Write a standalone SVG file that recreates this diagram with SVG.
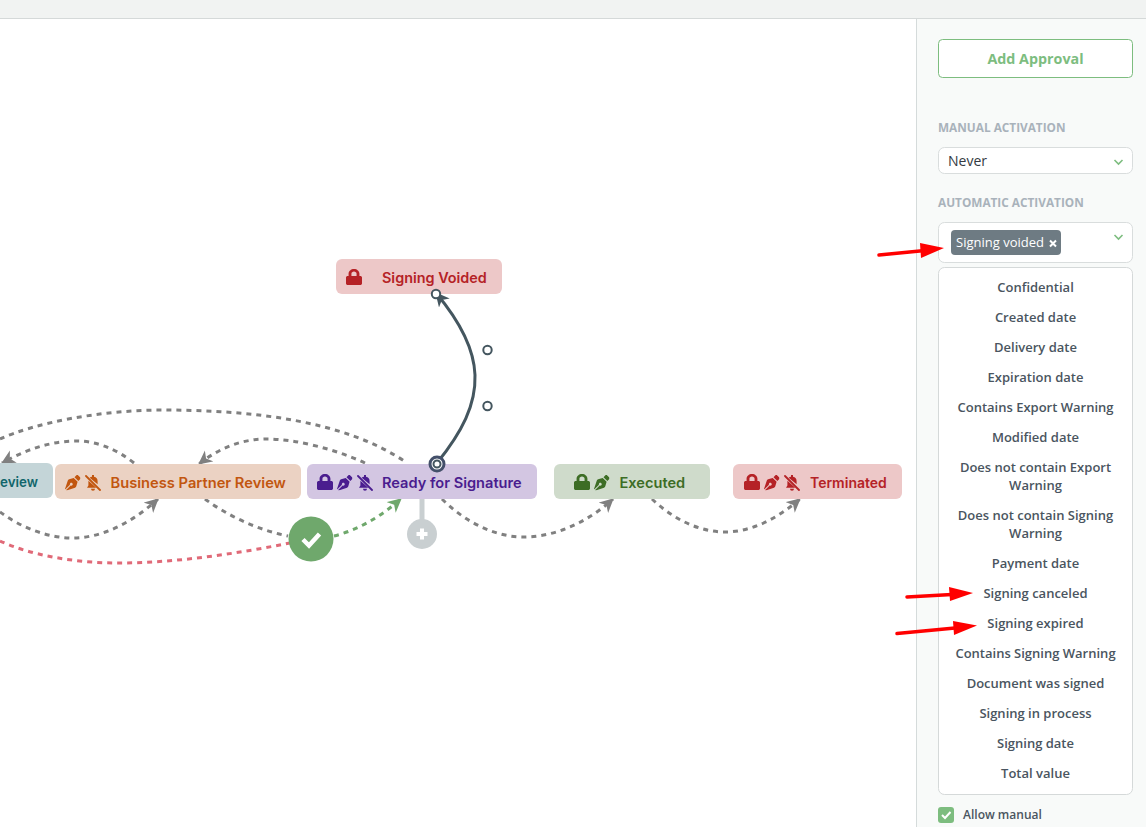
<svg xmlns="http://www.w3.org/2000/svg" width="1146" height="827" viewBox="0 0 1146 827">
<style>
.lbl{font-family:Inter,Roboto,"Liberation Sans",sans-serif;font-size:14.700px;font-weight:600}
.li{font-family:"Open Sans","Liberation Sans",sans-serif;font-size:13px;font-weight:600;fill:#4a5560;text-anchor:middle}
.cap{font-family:"Open Sans","Liberation Sans",sans-serif;font-size:11.800px;font-weight:700;fill:#a9b2bb}
.d{fill:none;stroke:#808080;stroke-width:3;stroke-dasharray:5 5}
.ch{fill:none;stroke:#7dbd7f;stroke-width:1.600}
.hollow{fill:#fff;stroke:#44565f;stroke-width:2}
.red{fill:none;stroke:#f00;stroke-width:3.500;stroke-linecap:round}
</style>
<defs>
<marker id="ag" markerWidth="16" markerHeight="16" refX="13" refY="7" orient="auto" markerUnits="userSpaceOnUse"><path d="M0 0L14 7L0 14L4 7Z" fill="#808080"/></marker>
<marker id="ae" markerWidth="16" markerHeight="16" refX="13" refY="7" orient="auto" markerUnits="userSpaceOnUse"><path d="M0 0L14 7L0 14L4 7Z" fill="#6fa86c"/></marker>
<marker id="ad" markerWidth="16" markerHeight="16" refX="13" refY="7" orient="auto" markerUnits="userSpaceOnUse"><path d="M0 0L14 7L0 14L4 7Z" fill="#44565f"/></marker>
<symbol id="lock" viewBox="0 0 448 512" preserveAspectRatio="none"><path d="M400 224h-24v-72C376 68.200 307.800 0 224 0S72 68.200 72 152v72H48c-26.500 0-48 21.500-48 48v192c0 26.500 21.500 48 48 48h352c26.500 0 48-21.500 48-48V272c0-26.500-21.500-48-48-48zm-104 0H152v-72c0-39.700 32.300-72 72-72s72 32.300 72 72v72z" fill="currentColor"/></symbol>
<symbol id="pen" viewBox="0 0 512 512"><path d="M136.600 138.790a64 64 0 0 0-43.310 41.350L0 460l14.690 14.690L164.800 324.580c-2.990-6.260-4.800-13.180-4.800-20.580 0-26.510 21.490-48 48-48s48 21.490 48 48-21.490 48-48 48c-7.400 0-14.320-1.810-20.580-4.800L37.310 497.310 52 512l279.860-93.290a64 64 0 0 0 41.350-43.310L416 224 288 96l-151.400 42.790zm361.340-64.620l-60.110-60.110c-18.750-18.750-49.160-18.750-67.910 0l-56.550 56.550 128.020 128.020 56.550-56.550c18.750-18.750 18.750-49.150 0-67.910z" fill="currentColor"/></symbol>
<symbol id="bell" viewBox="0 0 16 16"><path d="M7 .5A1 1 0 0 1 9 .5V1.800A4.600 4.600 0 0 1 12.600 6.500V9.200L4.700 2.700A4.500 4.500 0 0 1 7 1.800ZM3.400 5.800L11.300 12.800H2L3.400 10.500ZM6 13.800H10A2 2 0 0 1 6 13.800Z" fill="currentColor"/><path d="M1 1L15 15" stroke="currentColor" stroke-width="1.800" stroke-linecap="round"/></symbol>
</defs>
<rect width="1146" height="827" fill="#fff"/>
<rect width="1146" height="18" fill="#f1f3f2"/>
<rect y="18" width="1146" height="1" fill="#d5d9d9"/>
<g id="connectors">
<path class="d" d="M0 439C35 423 100 410 163 410C250 410 345 420 407 463"/>
<path class="d" marker-end="url(#ag)" d="M134 463C115 448 95 441 77 441C50 441 25 450 2 463"/>
<path class="d" marker-end="url(#ag)" d="M365 463C335 449 295 439 267 439C240 439 218 449 199 464"/>
<path class="d" marker-end="url(#ag)" d="M0 512C20 527 48 538 72 538C105 538 135 520 158 499"/>
<path class="d" d="M205 499C228 516 258 530 288 536"/>
<path class="d" style="stroke:#e06a78" d="M0 541C30 555 75 563 117 563C175 563 235 554 290 543"/>
<path class="d" style="stroke:#6fa86c" marker-end="url(#ae)" d="M334 536C358 530 380 517 401 499"/>
<path class="d" marker-end="url(#ag)" d="M442 499C465 522 495 537 523 537C558 537 590 520 613 499"/>
<path class="d" marker-end="url(#ag)" d="M652 499C672 518 698 532 725 532C752 532 778 518 800 499"/>
<path fill="none" stroke="#44565f" stroke-width="3" marker-end="url(#ad)" d="M437 463C462 432 476 405 475 375C474 347 457 318 436 293"/>
<path stroke="#c9cfd1" stroke-width="5" d="M422 499V522"/>
</g>
<g id="node-review"><rect x="-40" y="463" width="93" height="35" rx="6" fill="#c4d5d8"/><text class="lbl" x="0" y="487" fill="#11666b" style="font-size:14px" textLength="38" lengthAdjust="spacingAndGlyphs">eview</text></g>
<g id="node-business-partner-review"><rect x="55" y="464" width="246" height="35" rx="6" fill="#ebd2c3"/><use href="#pen" x="65" y="475" width="15.500" height="15.500" color="#c2560f"/><use href="#bell" x="85" y="475" width="16" height="16" color="#c2560f"/><text class="lbl" x="110.500" y="488" fill="#c2560f">Business Partner Review</text></g>
<g id="node-ready-for-signature"><rect x="307" y="464" width="230" height="35" rx="6" fill="#d3c6e2"/><use href="#lock" x="317" y="474" width="16" height="16" color="#4a1d8f"/><use href="#pen" x="337" y="475" width="15.500" height="15.500" color="#4a1d8f"/><use href="#bell" x="357" y="475" width="16" height="16" color="#4a1d8f"/><text class="lbl" x="382" y="488" fill="#4a1d8f" style="font-size:14.600px">Ready for Signature</text></g>
<g id="node-executed"><rect x="554" y="464" width="156" height="35" rx="6" fill="#cfdbcb"/><use href="#lock" x="574" y="474" width="16" height="16" color="#3d6d25"/><use href="#pen" x="594" y="475" width="15.500" height="15.500" color="#3d6d25"/><text class="lbl" x="619.500" y="488" fill="#3d6d25" style="font-size:14.600px">Executed</text></g>
<g id="node-terminated"><rect x="733" y="464" width="169" height="35" rx="6" fill="#edc8c8"/><use href="#lock" x="744" y="474" width="16" height="16" color="#b52226"/><use href="#pen" x="764" y="475" width="15.500" height="15.500" color="#b52226"/><use href="#bell" x="784" y="475" width="16" height="16" color="#b52226"/><text class="lbl" x="810" y="488" style="font-size:14px" fill="#b52226">Terminated</text></g>
<g id="node-signing-voided"><rect x="336" y="259" width="166" height="35" rx="6" fill="#edc8c8"/><use href="#lock" x="346" y="269" width="16" height="16" color="#b52226"/><text class="lbl" x="382" y="283" fill="#b52226" style="font-size:14.400px">Signing Voided</text></g>
<g id="node-approve"><circle cx="311" cy="539" r="22.500" fill="#6fa86c"/><path d="M303 539.500L309 545.500L319.500 534" fill="none" stroke="#fff" stroke-width="4.500"/></g>
<g id="node-add"><circle cx="422" cy="534" r="15" fill="#c9cfd1"/><path d="M422 528.500V539.500M416.500 534H427.500" stroke="#fff" stroke-width="4"/></g>
<g id="handles">
<circle class="hollow" cx="436" cy="294" r="4.200"/><circle class="hollow" cx="487.500" cy="350" r="4.200"/><circle class="hollow" cx="487.500" cy="406" r="4.200"/>
<circle cx="437" cy="464" r="7" fill="#fff" stroke="#44506a" stroke-width="3"/><circle cx="437" cy="464" r="3.500" fill="#fff" stroke="#44565f" stroke-width="2"/>
</g>
<g id="panel">
<rect x="916" y="19" width="230" height="808" fill="#f8faf9"/><rect x="916" y="19" width="1" height="808" fill="#d5dbdb"/>
<rect x="938.500" y="39.500" width="194" height="38" rx="4" fill="#fff" stroke="#7dbd7f"/>
<text x="1035.500" y="64" text-anchor="middle" font-family="'Open Sans','Liberation Sans',sans-serif" font-size="14.300" font-weight="700" fill="#7dbd7f">Add Approval</text>
<text class="cap" x="938" y="132">MANUAL ACTIVATION</text>
<rect x="938.500" y="147.500" width="194" height="26" rx="6" fill="#fff" stroke="#d9dddd"/>
<text x="948" y="166" font-family="'Open Sans','Liberation Sans',sans-serif" font-size="14" fill="#333a42">Never</text>
<path class="ch" d="M1114.500 160L1118.500 164L1122.500 160"/>
<text class="cap" x="938" y="207">AUTOMATIC ACTIVATION</text>
<rect x="938.500" y="222.500" width="194" height="40" rx="6" fill="#fff" stroke="#d9dddd"/>
<rect x="951" y="230" width="110" height="25" rx="4" fill="#6e7b83"/>
<text x="956" y="247" font-family="'Open Sans','Liberation Sans',sans-serif" font-size="13" fill="#fff">Signing voided</text>
<path d="M1050 240.500L1056 246.500M1056 240.500L1050 246.500" stroke="#fff" stroke-width="2"/>
<path class="ch" d="M1114.500 235L1118.500 239L1122.500 235"/>
<rect x="938.500" y="267.500" width="194" height="527" rx="6" fill="#fff" stroke="#d5d9d9"/>
<text class="li" x="1035.500" y="292">Confidential</text>
<text class="li" x="1035.500" y="322">Created date</text>
<text class="li" x="1035.500" y="352">Delivery date</text>
<text class="li" x="1035.500" y="382">Expiration date</text>
<text class="li" x="1035.500" y="412">Contains Export Warning</text>
<text class="li" x="1035.500" y="442">Modified date</text>
<text class="li" x="1035.500" y="472">Does not contain Export</text>
<text class="li" x="1035.500" y="490">Warning</text>
<text class="li" x="1035.500" y="520">Does not contain Signing</text>
<text class="li" x="1035.500" y="538">Warning</text>
<text class="li" x="1035.500" y="568">Payment date</text>
<text class="li" x="1035.500" y="598">Signing canceled</text>
<text class="li" x="1035.500" y="628">Signing expired</text>
<text class="li" x="1035.500" y="658">Contains Signing Warning</text>
<text class="li" x="1035.500" y="688">Document was signed</text>
<text class="li" x="1035.500" y="718">Signing in process</text>
<text class="li" x="1035.500" y="748">Signing date</text>
<text class="li" x="1035.500" y="778">Total value</text>
<rect x="938" y="807" width="16" height="16" rx="3" fill="#7dbd7f"/>
<path d="M942 815L945 818L950.500 812" fill="none" stroke="#fff" stroke-width="2"/>
<text x="963" y="819" font-family="'Open Sans','Liberation Sans',sans-serif" font-size="12" font-weight="600" fill="#4a5560">Allow manual</text>
</g>
<g id="annotations">
<path class="red" d="M879 255L925 250.500"/><path d="M920 243L944 248L921 258Z" fill="#f00"/>
<path class="red" d="M907 597L952 594.500"/><path d="M949 587L973 593L950 601Z" fill="#f00"/>
<path class="red" d="M897 633.500L955 628"/><path d="M953 621L977 625.500L954 635Z" fill="#f00"/>
</g>
</svg>
